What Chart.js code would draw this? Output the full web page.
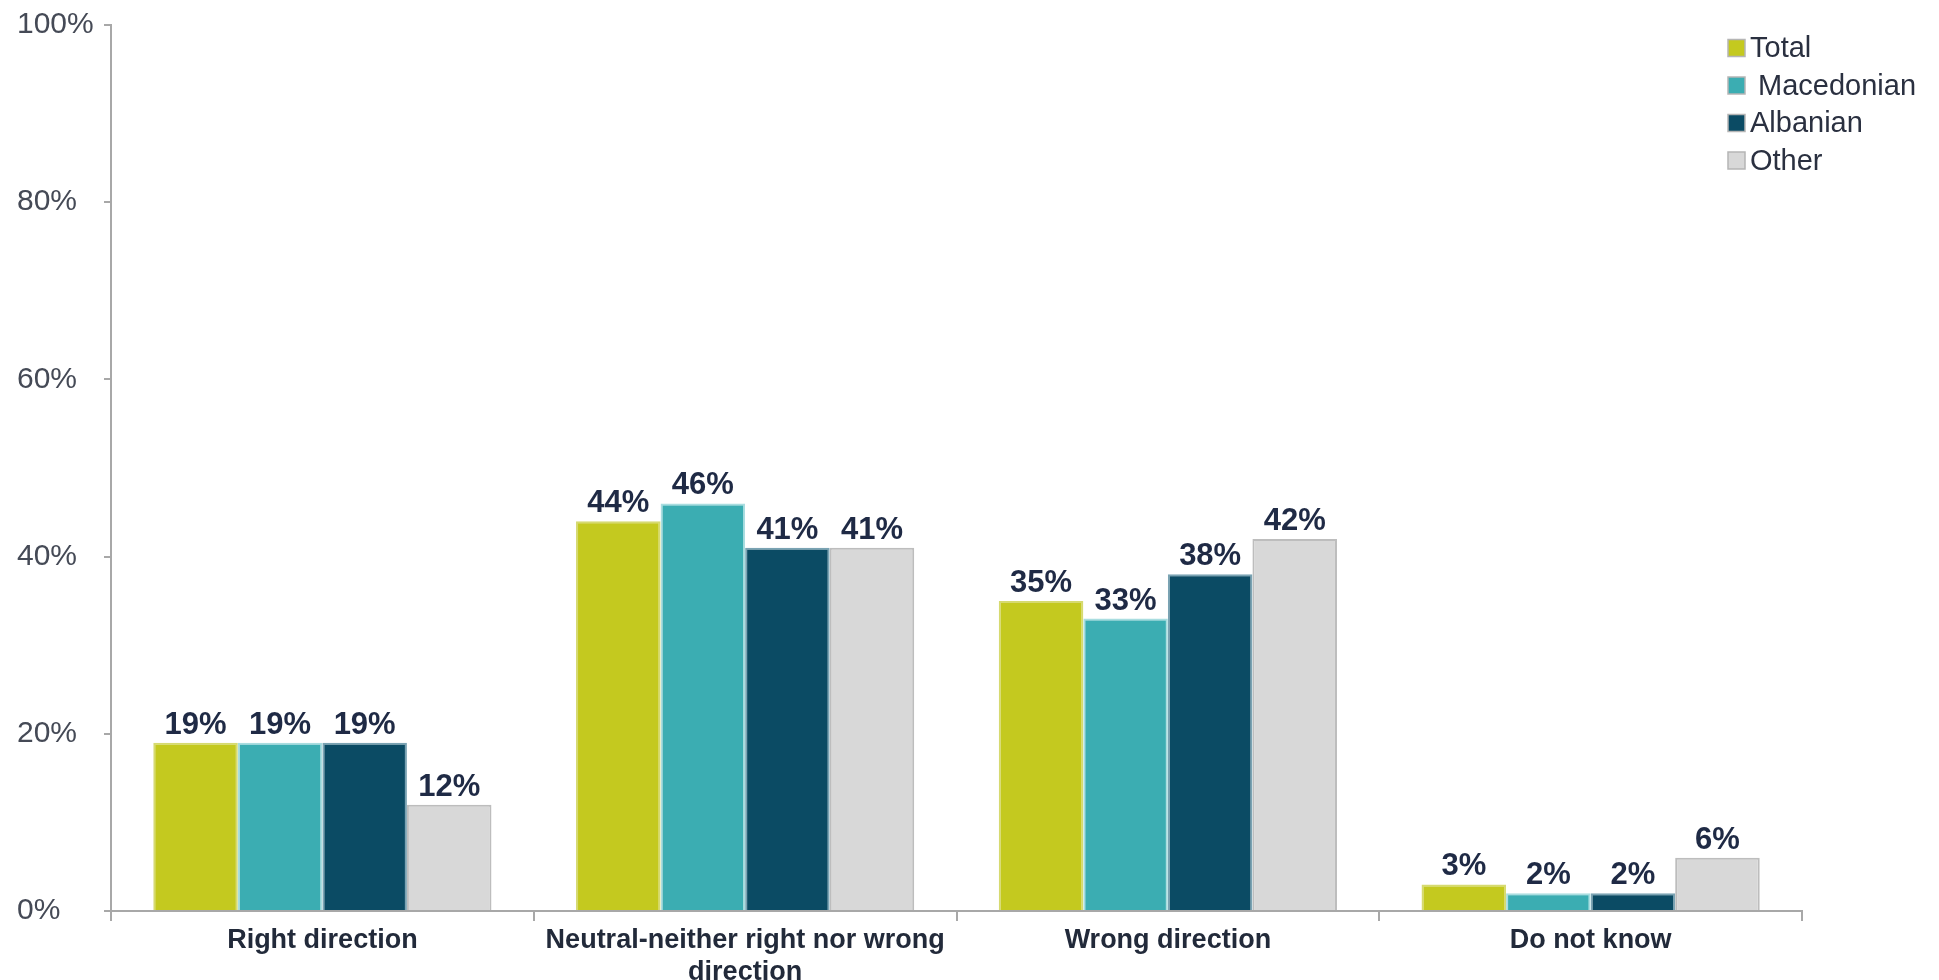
<!DOCTYPE html>
<html>
<head>
<meta charset="utf-8">
<script src="https://cdn.jsdelivr.net/npm/chart.js@4.4.1/dist/chart.umd.min.js"></script>
<style>
  html, body { margin: 0; padding: 0; background: #fff; }
  #wrap { width: 1939px; height: 980px; }
</style>
</head>
<body>
<div id="wrap"><canvas id="dirChart" width="1939" height="980"></canvas></div>
<script>
const categories = [
  "Right direction",
  ["Neutral-neither right nor wrong", "direction"],
  "Wrong direction",
  "Do not know",
];
const seriesNames = ["Total", " Macedonian", "Albanian", "Other"];
const total = [19, 44, 35, 3];
const macedonian = [19, 46, 33, 2];
const albanian = [19, 41, 38, 2];
const other = [12, 41, 42, 6];
const yTicks = [0, 20, 40, 60, 80, 100];

const colors = ["#c4c91f", "#3badb2", "#0b4b64", "#d8d8d8"];
const borders = ["#d6da70", "#a9dde0", "#7aa3b3", "#bdbdbd"];
const series = [total, macedonian, albanian, other];

const FONT = "'Liberation Sans', Arial, sans-serif";

// value labels above each bar
const valueLabels = {
  id: "valueLabels",
  afterDatasetsDraw(chart) {
    const ctx = chart.ctx;
    ctx.save();
    ctx.font = "bold 31px " + FONT;
    ctx.fillStyle = "#1f2a45";
    ctx.textAlign = "center";
    ctx.textBaseline = "bottom";
    chart.data.datasets.forEach((ds, i) => {
      chart.getDatasetMeta(i).data.forEach((bar, j) => {
        ctx.fillText(ds.data[j] + "%", bar.x, bar.y - 2);
      });
    });
    ctx.restore();
  },
};

// small vertical legend in the top-right corner
const cornerLegend = {
  id: "cornerLegend",
  afterDraw(chart) {
    const ctx = chart.ctx;
    const x = 1728, y0 = 48, step = 37.5, box = 17;
    ctx.save();
    ctx.font = "29px " + FONT;
    ctx.textBaseline = "middle";
    chart.data.datasets.forEach((ds, i) => {
      const y = y0 + i * step;
      ctx.fillStyle = ds.backgroundColor;
      ctx.fillRect(x, y - box / 2, box, box);
      ctx.strokeStyle = "#b5b5b5";
      ctx.lineWidth = 1.5;
      ctx.strokeRect(x, y - box / 2, box, box);
      ctx.fillStyle = "#2a3040";
      ctx.fillText(ds.label, x + box + 5, y + 1);
    });
    ctx.restore();
  },
};

new Chart(document.getElementById("dirChart"), {
  type: "bar",
  data: {
    labels: categories,
    datasets: seriesNames.map((name, i) => ({
      label: name,
      data: series[i],
      backgroundColor: colors[i],
      borderColor: borders[i],
      borderWidth: 2,
      categoryPercentage: 0.8,
      barPercentage: 1.0,
    })),
  },
  options: {
    responsive: false,
    animation: false,
    layout: { padding: { top: 25, right: 137, bottom: 0, left: 17 } },
    plugins: {
      legend: { display: false },
      tooltip: { enabled: false },
    },
    scales: {
      x: {
        grid: {
          offset: true,
          drawOnChartArea: false,
          drawTicks: true,
          tickLength: 10,
          color: "#a8a8a8",
          lineWidth: 2,
        },
        border: { color: "#a8a8a8", width: 2 },
        ticks: {
          color: "#222a3a",
          font: { family: FONT, size: 27, weight: "bold" },
          padding: 3,
          maxRotation: 0,
          autoSkip: false,
        },
        afterFit(scale) { scale.height = 980 - 911; },
      },
      y: {
        min: 0,
        max: 100,
        afterBuildTicks(scale) { scale.ticks = yTicks.map(v => ({ value: v })); },
        grid: {
          drawOnChartArea: false,
          drawTicks: true,
          tickLength: 7,
          color: "#a8a8a8",
          lineWidth: 2,
        },
        border: { color: "#a8a8a8", width: 2 },
        ticks: {
          color: "#454a56",
          font: { family: FONT, size: 30 },
          crossAlign: "far",
          callback: v => v + "%",
        },
        afterFit(scale) { scale.width = 111 - 17; },
      },
    },
  },
  plugins: [valueLabels, cornerLegend],
});
</script>
</body>
</html>
